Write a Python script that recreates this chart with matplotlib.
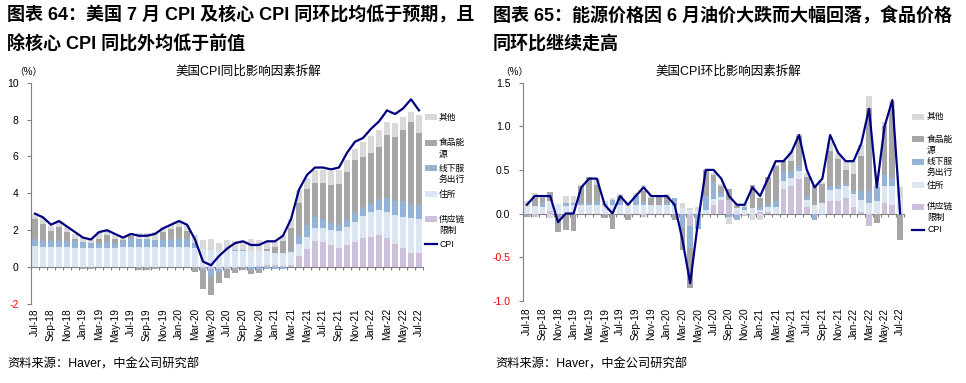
import numpy as np, pandas as pd
import matplotlib; matplotlib.use("Agg")
import matplotlib.pyplot as plt
from matplotlib.patches import Rectangle
from matplotlib.lines import Line2D

FAM = ["Liberation Sans", "Noto Sans CJK SC"]
plt.rcParams.update({"font.family": FAM, "axes.unicode_minus": False})
GRID = "#808080"
C_SUP, C_SHE, C_SRV, C_FE, C_OTH, C_CPI = "#ccc0da", "#dce6f2", "#95b3d7", "#a6a6a6", "#d9d9d9", "#000080"

months = pd.date_range("2018-07-01", periods=49, freq="MS").strftime("%b-%y").tolist()

# 同比拆解 (%)
yoy_supply = [0.02]*20 + [0.0, -0.05, -0.1, -0.1, -0.1, -0.05, 0.0, 0.02, 0.05, 0.1, 0.1, 0.05, 0.12,
              0.6, 1.0, 1.42, 1.35, 1.22, 1.05, 1.2, 1.37, 1.59, 1.66, 1.75, 1.59, 1.26, 1.06, 0.79, 0.76]
yoy_shelter = [1.12, 1.06, 1.06, 1.08, 1.06, 1.04, 1.0, 1.0, 1.03, 1.03, 1.03, 1.07, 1.07, 1.07, 1.07, 1.05, 1.05, 1.05, 1.05, 1.05,
               1.02, 1.0, 0.95, 0.9, 0.9, 0.88, 0.88, 0.85, 0.82, 0.78, 0.68, 0.7, 0.7,
               0.65, 0.65, 0.72, 0.78, 0.78, 0.9, 0.96, 1.1, 1.18, 1.31, 1.35, 1.41, 1.57, 1.68, 1.86, 1.84]
yoy_service = [0.4, 0.36, 0.36, 0.32, 0.34, 0.36, 0.33, 0.29, 0.26, 0.3, 0.26, 0.33, 0.41, 0.44, 0.44, 0.39, 0.41, 0.45, 0.45, 0.45,
               0.3, -0.1, -0.4, -0.15, 0.0, 0.05, 0.05, -0.15, -0.12, -0.1, -0.1, -0.1, 0.05,
               0.45, 0.62, 0.56, 0.47, 0.38, 0.32, 0.4, 0.45, 0.51, 0.49, 0.6, 0.73, 0.77, 0.83, 0.77, 0.75]
yoy_food_energy = [1.05, 0.9, 0.5, 0.78, 0.48, 0.12, -0.12, -0.12, 0.24, 0.38, 0.22, 0.05, 0.2, -0.15, -0.15, -0.08, 0.44, 0.55, 0.65, 0.45,
                   -0.25, -1.05, -1.0, -0.6, -0.5, -0.25, -0.15, -0.2, -0.22, 0.1, 0.3, 0.65, 1.25,
                   1.8, 1.96, 1.88, 1.95, 2.05, 2.22, 2.61, 2.88, 2.7, 2.74, 2.82, 3.42, 3.43, 3.85, 4.44, 3.93]
yoy_other = [0.3, 0.3, 0.3, 0.28, 0.25, 0.25, 0.28, 0.22, 0.35, 0.3, 0.27, 0.17, 0.15, 0.32, 0.32, 0.44, 0.23, 0.25, 0.35, 0.3,
             0.41, 0.45, 0.6, 0.43, 0.58, 0.51, 0.51, 0.63, 0.6, 0.42, 0.3, 0.35, 0.48,
             0.7, 0.62, 0.68, 0.71, 0.77, 0.77, 0.63, 0.63, 0.82, 0.9, 0.9, 0.72, 0.81, 0.72, 0.54, 0.95]
yoy_cpi = [2.9, 2.7, 2.3, 2.5, 2.2, 1.9, 1.6, 1.5, 1.9, 2.0, 1.8, 1.6, 1.8, 1.7, 1.7, 1.8, 2.1, 2.3,
           2.5, 2.3, 1.5, 0.3, 0.1, 0.6, 1.0, 1.3, 1.4, 1.2, 1.2, 1.4, 1.4, 1.7, 2.6, 4.2, 5.0, 5.4,
           5.4, 5.3, 5.4, 6.2, 6.8, 7.0, 7.5, 7.9, 8.5, 8.3, 8.6, 9.1, 8.5]

# 环比拆解 (%)
mom_supply = [0, -0.04, 0, 0.03, 0, 0, 0, 0, 0, 0, 0, 0, 0, 0, 0, -0.04, 0, 0, 0, 0,
              0, -0.14, 0, 0, 0.1, 0.16, 0.16, -0.02, -0.03, 0, 0.02, 0.02, 0, 0.28, 0.31, 0.4, 0.07, 0, 0, 0.14,
              0.14, 0.18, 0.08, 0.02, -0.14, 0, 0.12, 0.1, 0]
mom_shelter = [0.09, 0.09, 0.08, 0.11, 0.11, 0.09, 0.1, 0.1, 0.1, 0.1, 0.1, 0.1, 0.1, 0.09, 0.1, 0.1, 0.1, 0.1, 0.1, 0.09,
               0.06, 0.04, 0.04, 0.04, 0.07, 0.03, 0.0, 0.06, 0.04, 0.06, 0.02, 0.06, 0.08, 0.09, 0.1, 0.09, 0.08, 0.1, 0.12, 0.13,
               0.14, 0.13, 0.14, 0.14, 0.12, 0.14, 0.19, 0.21, 0.18]
mom_service = [0, 0, 0.04, 0, 0, 0.03, 0.02, 0.02, 0.02, 0.04, 0.01, 0.06, 0.04, 0, 0.1, 0.03, 0, 0, 0.02, 0.09,
               -0.15, -0.26, -0.18, 0.16, 0.19, 0.05, -0.04, -0.05, 0.04, 0, 0.03, 0.02, 0.06, 0.12, 0.08, 0.06, 0.05, -0.07, -0.02, 0.05,
               0.04, 0.04, 0.04, 0.1, 0.14, 0.16, 0.14, 0.1, 0]
mom_food_energy = [-0.04, 0.09, 0.06, 0.11, -0.21, -0.19, -0.2, 0.19, 0.3, 0.19, -0.05, -0.18, 0.06, -0.08, 0, 0.13, 0.08, 0.1, 0.07, -0.08,
                   -0.27, -0.45, 0, 0.3, 0.08, 0.07, 0.12, 0.03, 0, 0.27, 0.11, 0.32, 0.4, 0.11, 0.11, 0.34, 0.22, 0.21, 0.22, 0.4,
                   0.3, 0.15, 0.19, 0.4, 0.95, -0.11, 0.55, 0.79, -0.3]
mom_other = [0.05, 0.06, 0.02, -0.05, 0, 0.08, 0.08, 0.02, 0, 0.06, 0.03, 0.02, 0.02, 0.03, 0.04, 0.07, 0.03, 0, 0.03, 0,
             0.06, 0.02, 0.04, 0, 0.03, 0.03, -0.08, 0.02, 0.03, -0.07, -0.07, 0.0, 0.02, 0.0, 0.12, 0.02, 0.05, 0.0, 0.02, 0.1,
             0.06, 0.1, 0.15, 0.13, 0.14, 0.05, 0.05, 0.09, 0.12]
mom_cpi = [0.1, 0.2, 0.2, 0.2, -0.1, 0.0, 0.0, 0.3, 0.4, 0.4, 0.1, 0.0, 0.2, 0.1, 0.2, 0.3, 0.2, 0.2, 0.2, 0.1,
           -0.3, -0.8, -0.1, 0.5, 0.5, 0.4, 0.2, 0.1, 0.1, 0.3, 0.2, 0.4, 0.6, 0.6, 0.7, 0.9, 0.5, 0.3, 0.4, 0.9,
           0.7, 0.6, 0.6, 0.8, 1.2, 0.3, 1.0, 1.3, 0.0]

LEG_LABELS = ["其他", "食品能\n源", "线下服\n务出行", "住所", "供应链\n限制", "CPI"]
LEG_COLORS = [C_OTH, C_FE, C_SRV, C_SHE, C_SUP, C_CPI]
W, H = 966, 383

def chart(ax, comps, cpi, yticks, ylabels, ylim, pad):
    x = np.arange(len(months))
    pos = np.zeros(len(x)); neg = np.zeros(len(x))
    for vals, c in zip(comps, [C_SUP, C_SHE, C_SRV, C_FE, C_OTH]):
        v = np.asarray(vals, float)
        ax.bar(x, v, 0.74, bottom=np.where(v >= 0, pos, neg), color=c, linewidth=0, zorder=2)
        pos += np.clip(v, 0, None); neg += np.clip(v, None, 0)
    ax.plot(x, cpi, color=C_CPI, lw=1.6, zorder=4)
    ax.set_xlim(-0.5, len(x) - 0.5); ax.set_ylim(*ylim)
    for s in ["top", "right", "bottom"]: ax.spines[s].set_visible(False)
    ax.spines["left"].set_color(GRID)
    ax.set_yticks(yticks); ax.set_yticklabels(ylabels)
    ax.tick_params(axis="y", length=3, color=GRID, labelsize=7.5, pad=6)
    for t, v in zip(ax.get_yticklabels(), yticks):
        t.set_color("red" if v < 0 else "black")
    ax.set_xticks(x[::2]); ax.set_xticklabels(months[::2], rotation=90, fontsize=7.3)
    ax.tick_params(axis="x", length=0, pad=pad)
    zx = ax.secondary_xaxis(0, transform=ax.transData)
    zx.set_xticks(np.arange(-0.5, len(x), 1)); zx.tick_params(length=2.5, color=GRID, labelbottom=False)
    zx.spines["bottom"].set_color(GRID)

def legend(fig, hx, tx, ys, step):
    for lab, c, y in zip(LEG_LABELS, LEG_COLORS, ys):
        if lab == "CPI":
            fig.add_artist(Line2D([hx / W, (hx + 12) / W], [1 - y / H] * 2, color=c, lw=1.6,
                                  transform=fig.transFigure))
        else:
            fig.add_artist(Rectangle((hx / W, 1 - (y + 3) / H), 12 / W, 6 / H, color=c, lw=0,
                                     transform=fig.transFigure))
        for i, line in enumerate(lab.split("\n")):
            fig.text(tx / W, 1 - (y + i * step) / H, line, fontsize=6.3, va="center")

fig = plt.figure(figsize=(9.66, 3.83), dpi=100)
axL = fig.add_axes([31 / W, 1 - 304 / H, 392 / W, (304 - 82.7) / H])
axR = fig.add_axes([523 / W, 1 - 300.7 / H, 381 / W, (300.7 - 82.7) / H])
chart(axL, [yoy_supply, yoy_shelter, yoy_service, yoy_food_energy, yoy_other], yoy_cpi,
      [10, 8, 6, 4, 2, 0, -2], ["10", "8", "6", "4", "2", "0", "-2"], (-2, 10), 3)
chart(axR, [mom_supply, mom_shelter, mom_service, mom_food_energy, mom_other], mom_cpi,
      [1.5, 1.0, 0.5, 0.0, -0.5, -1.0], ["1.5", "1.0", "0.5", "0.0", "-0.5", "-1.0"], (-1.0, 1.5), 5)
legend(fig, 425, 439, [117, 142.7, 168.3, 194, 219.3, 244.3], 11.5)
legend(fig, 912, 927, [116.7, 139.3, 161.7, 185, 206.7, 230], 11)

TF = dict(fontsize=13, weight="bold", va="center")
fig.text(7 / W, 1 - 15 / H, "图表 64：美国 7 月 CPI 及核心 CPI 同环比均低于预期，且", **TF)
fig.text(7 / W, 1 - 44 / H, "除核心 CPI 同比外均低于前值", **TF)
fig.text(493 / W, 1 - 15 / H, "图表 65：能源价格因 6 月油价大跌而大幅回落，食品价格", **TF)
fig.text(493 / W, 1 - 44 / H, "同环比继续走高", **TF)
fig.text(248 / W, 1 - 72 / H, "美国CPI同比影响因素拆解", fontsize=9, ha="center", va="center")
fig.text(728 / W, 1 - 72 / H, "美国CPI环比影响因素拆解", fontsize=9, ha="center", va="center")
fig.text(14 / W, 1 - 72 / H, "（%）", fontsize=7, va="center")
fig.text(500 / W, 1 - 72 / H, "（%）", fontsize=7, va="center")
fig.text(7 / W, 1 - 364 / H, "资料来源：Haver，中金公司研究部", fontsize=8.8, va="center")
fig.text(495 / W, 1 - 364 / H, "资料来源：Haver，中金公司研究部", fontsize=8.8, va="center")

fig.savefig("out.png", dpi=100, facecolor="white")
